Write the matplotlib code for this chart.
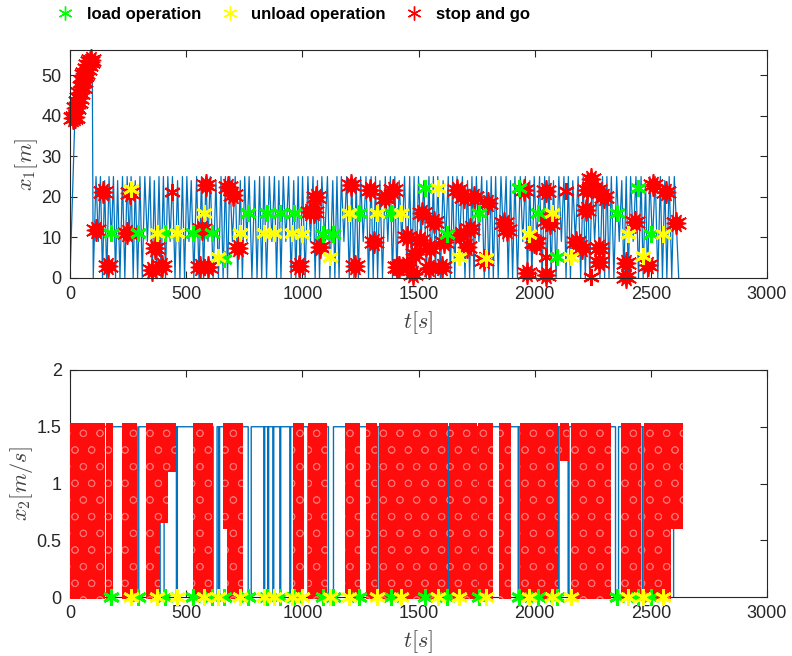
import matplotlib
matplotlib.use('Agg')
import matplotlib.pyplot as plt
from matplotlib.lines import Line2D

plt.rcParams['font.family'] = ['Liberation Sans', 'DejaVu Sans']
plt.rcParams['mathtext.fontset'] = 'cm'
plt.rcParams['hatch.linewidth'] = 0.6

# ---- x1 (position) trace: start-up ramp, then back-and-forth trips ----
ramp_t = [0, 21, 36, 50, 65, 80, 92, 96, 100]
ramp_x = [0, 39.7, 43.4, 46.7, 50, 52.5, 53.5, 51, 0]

peak_t = [112, 131, 149, 168, 187, 205, 226, 246, 263, 281,
          301, 322, 344, 363, 383, 402, 421, 441, 463, 484,
          503, 522, 545, 566, 585, 604, 628, 650, 669, 688,
          711, 733, 752, 771, 795, 816, 835, 858, 880, 899,
          918, 941, 963, 982, 1001, 1024, 1046, 1065, 1084, 1108,
          1131, 1149, 1168, 1191, 1213, 1232, 1251, 1274, 1296, 1315,
          1334, 1357, 1379, 1398, 1417, 1440, 1462, 1481, 1500, 1523,
          1545, 1564, 1583, 1606, 1628, 1647, 1666, 1689, 1711, 1730,
          1749, 1772, 1794, 1813, 1832, 1855, 1877, 1896, 1915, 1938,
          1960, 1979, 1998, 2021, 2043, 2062, 2081, 2104, 2126, 2145,
          2164, 2187, 2209, 2228, 2247, 2270, 2292, 2311, 2330, 2353,
          2375, 2394, 2413, 2436, 2458, 2477, 2496, 2519, 2541, 2560,
          2579, 2601]
peak_x = [25, 25, 24, 25, 25, 24, 25, 25, 25, 24,
          25, 25, 25, 24, 25, 25, 25, 25, 24, 25,
          25, 24, 25, 25, 25, 25, 24, 25, 25, 25,
          25, 24, 25, 25, 24, 25, 25, 25, 25, 24,
          25, 25, 24, 25, 25, 25, 25, 24, 25, 25,
          24, 25, 25, 25, 25, 24, 25, 25, 25, 25,
          24, 25, 25, 25, 24, 25, 25, 25, 25, 24,
          25, 25, 25, 24, 25, 25, 25, 25, 24, 25,
          25, 25, 24, 25, 25, 25, 25, 24, 25, 25,
          25, 24, 25, 25, 25, 25, 24, 25, 25, 25,
          24, 25, 25, 25, 25, 24, 25, 25, 25, 25,
          24, 25, 25, 25, 25, 24, 25, 25, 25, 24,
          25, 25]
valley_t = [122, 140, 158, 178, 196, 215, 236, 255, 272, 291,
            311, 333, 354, 373, 392, 411, 431, 452, 473, 493,
            512, 533, 555, 575, 594, 616, 639, 659, 678, 699,
            722, 742, 761, 783, 805, 825, 846, 869, 889, 908,
            929, 952, 972, 991, 1012, 1035, 1055, 1074, 1096, 1119,
            1140, 1158, 1179, 1202, 1222, 1241, 1262, 1285, 1305, 1324,
            1345, 1368, 1388, 1407, 1428, 1451, 1471, 1490, 1511, 1534,
            1554, 1573, 1594, 1617, 1637, 1656, 1677, 1700, 1720, 1739,
            1760, 1783, 1803, 1822, 1843, 1866, 1886, 1905, 1926, 1949,
            1969, 1988, 2009, 2032, 2052, 2071, 2092, 2115, 2135, 2154,
            2175, 2198, 2218, 2237, 2258, 2281, 2301, 2320, 2341, 2364,
            2384, 2403, 2424, 2447, 2467, 2486, 2507, 2530, 2550, 2569,
            2590, 2620]
valley_x = [9, 0, 0, 9, 0, 0, 0, 9, 0, 0,
            0, 9, 0, 0, 0, 0, 9, 0, 0, 0,
            9, 0, 0, 0, 9, 0, 0, 0, 0, 9,
            0, 0, 9, 0, 0, 0, 0, 9, 0, 0,
            9, 0, 0, 0, 0, 9, 0, 0, 9, 0,
            0, 0, 9, 0, 0, 0, 9, 0, 0, 0,
            0, 9, 0, 0, 9, 0, 0, 0, 9, 0,
            0, 0, 0, 9, 0, 0, 9, 0, 0, 0,
            9, 0, 0, 0, 0, 9, 0, 0, 0, 9,
            0, 0, 9, 0, 0, 0, 0, 9, 0, 0,
            9, 0, 0, 0, 9, 0, 0, 0, 0, 9,
            0, 0, 9, 0, 0, 0, 9, 0, 0, 0,
            0, 0]

# load / unload operations (time, position)
load_t = [175, 291, 409, 528, 610, 663, 768, 850, 905, 962, 1089, 1130, 1245,
          1382, 1530, 1623, 1762, 1932, 2013, 2097, 2353, 2444, 2499]
load_x = [11, 11, 11, 11, 11, 4.8, 15.9, 15.9, 15.9, 15.9, 10.8, 10.8, 15.9,
          15.9, 22.1, 10.8, 15.9, 22.1, 15.9, 5.1, 15.9, 22.1, 10.8]
unload_t = [263, 373, 459, 577, 639, 732, 833, 876, 955, 998, 1120, 1202, 1321,
            1425, 1583, 1673, 1791, 1975, 2075, 2155, 2403, 2467, 2554]
unload_x = [21.9, 11, 11, 15.9, 5.1, 11, 11, 11, 11, 10.8, 5.1, 15.9, 15.9,
            15.9, 22.1, 5.1, 5, 10.8, 15.9, 5.1, 10.8, 5.3, 10.8]

# stop-and-go events on x1
stop_t = [13, 20, 27, 33, 38, 44, 50, 55, 60, 66, 73, 79, 85, 90,
          112, 144, 162, 244, 260, 352, 366, 395, 560, 567, 584, 596, 681, 703,
          722, 987, 1034, 1051, 1060, 1077, 1209, 1228, 1293, 1307, 1357, 1390,
          1408, 1414, 1450, 1476, 1486, 1450, 1506, 1513, 1565, 1551, 1544, 1601,
          1608, 1666, 1695, 1738, 1680, 1723, 1709, 1800, 1781, 1867, 1881, 1953,
          2004, 1968, 2047, 2054, 2047, 2065, 1996, 2176, 2205, 2241, 2227, 2270,
          2298, 2219, 2276, 2276, 2391, 2391, 2430, 2511, 2564, 2487, 2607]
stop_x = [39.5, 39.8, 42, 43.5, 44.3, 45.5, 47, 48.5, 50, 50.5, 51.5, 52.5, 53.2, 53.7,
          11.8, 21.3, 3, 11, 21, 2, 7.3, 3, 2.8, 12.2, 22.9, 2.8, 22.5, 20.4,
          7.3, 3, 16.3, 16.3, 20, 7.6, 22.9, 3, 21.8, 8.9, 19.6, 21.7,
          2.8, 2.8, 3.2, 1.1, 6, 10.2, 9.4, 15.9, 13.9, 7.3, 2.4, 2.8,
          8.9, 21.8, 20, 20, 10.6, 12.2, 7.7, 18.5, 4.4, 13.5, 11.8, 21.7,
          8.7, 1.2, 21.4, 14.3, 0.8, 13.6, 8.9, 8.9, 7.3, 24.3, 21.7, 21.7,
          20, 16.7, 7.3, 4, 3.6, 0.3, 13.9, 22.9, 21.3, 3.2, 13.6]
stop_single_t = [441, 2047, 2133, 2241]
stop_single_x = [21.1, 5.1, 21.4, 0.3]

# ---- x2 (velocity): cruise speed with short standstills ----
v_cruise = 1.5
v_start, v_end = 2, 2598
zero_start = [289, 388, 458, 616, 640, 767, 834, 851, 873, 903, 946, 1024, 1112,
              1321, 1627, 1752, 1929, 2101, 2144, 2348, 2463, 2553]
zero_end = [296, 405, 462, 633, 644, 780, 838, 855, 877, 907, 950, 1028, 1134,
            1325, 1631, 1756, 1933, 2105, 2148, 2361, 2467, 2557]

# stop-and-go samples on x2 (time span and speed span they cover)
band_t0 = [0, 155, 224, 328, 388, 420, 530, 660, 675, 961, 1026, 1185, 1272, 1328,
           1632, 1758, 1845, 1935, 2108, 2155, 2371, 2470, 2586]
band_t1 = [152, 185, 289, 386, 420, 455, 614, 675, 746, 1006, 1108, 1250, 1321, 1626,
           1751, 1820, 1898, 2099, 2147, 2328, 2458, 2586, 2638]
band_lo = [-0.02, -0.02, -0.02, -0.02, 0.65, 1.1, -0.02, 0.6, -0.02, -0.02, -0.02, -0.02,
           -0.02, -0.02, -0.02, -0.02, -0.02, -0.02, 1.2, -0.02, -0.02, -0.02, 0.6]
band_hi = [1.53, 1.53, 1.53, 1.53, 1.53, 1.53, 1.53, 1.53, 1.53, 1.53, 1.53, 1.53,
           1.53, 1.53, 1.53, 1.53, 1.53, 1.53, 1.53, 1.53, 1.53, 1.53, 1.53]

BLUE = '#0072BD'
AX = '#262626'
AST = (6, 2, 0)   # matlab-like asterisk


def matlab_axes(ax):
    for s in ax.spines.values():
        s.set_color(AX)
        s.set_linewidth(0.8)
    ax.tick_params(direction='in', length=5, width=0.8, top=True, right=True,
                   colors=AX, labelsize=13, pad=6)


fig = plt.figure(figsize=(7.92, 6.56), dpi=100)
ax1 = fig.add_axes([70 / 792, 1 - 278 / 656, 697 / 792, 228 / 656])
ax2 = fig.add_axes([70 / 792, 1 - 597 / 656, 697 / 792, 227 / 656])

# top: position
path_t = list(ramp_t)
path_x = list(ramp_x)
for pt, px, vt, vx in zip(peak_t, peak_x, valley_t, valley_x):
    path_t += [pt, vt]
    path_x += [px, vx]
ax1.plot(path_t, path_x, color=BLUE, lw=0.9)
ax1.plot(stop_t, stop_x, ls='none', marker=(12, 1, 0), ms=14, color='red', clip_on=False)
ax1.plot(stop_t, stop_x, ls='none', marker=AST, ms=16, mew=1.2, color='red', clip_on=False)
ax1.plot(stop_single_t, stop_single_x, ls='none', marker=AST, ms=12, mew=1.6, color='red',
         clip_on=False)
ax1.plot(load_t, load_x, ls='none', marker=AST, ms=12, mew=2, color='#00ff00')
ax1.plot(unload_t, unload_x, ls='none', marker=AST, ms=12, mew=2, color='#ffff00')

ax1.set_xlim(0, 3000)
ax1.set_ylim(0, 56.2)
ax1.set_xticks(range(0, 3001, 500))
ax1.set_yticks(range(0, 51, 10))
ax1.set_xlabel(r'$t[s]$', fontsize=16, color='#404040', labelpad=4)
ax1.set_ylabel(r'$x_1[m]$', fontsize=16, color='#404040', labelpad=1)
matlab_axes(ax1)

# bottom: velocity
vel_t = [0, v_start]
vel_v = [0, v_cruise]
for a, b in zip(zero_start, zero_end):
    vel_t += [a, a, b, b]
    vel_v += [v_cruise, 0, 0, v_cruise]
vel_t += [v_end, v_end]
vel_v += [v_cruise, 0]
ax2.plot(vel_t, vel_v, color=BLUE, lw=1.0)
ax2.bar(band_t0, [h - l for h, l in zip(band_hi, band_lo)],
        width=[b - a for a, b in zip(band_t0, band_t1)], bottom=band_lo,
        align='edge', facecolor='#ff0d0d', edgecolor='#ff6e6e', linewidth=0,
        hatch='o', clip_on=False, zorder=3)
ax2.plot(load_t, [0] * len(load_t), ls='none', marker=AST, ms=12, mew=2,
         color='#00ff00', clip_on=False, zorder=4)
ax2.plot(unload_t, [0] * len(unload_t), ls='none', marker=AST, ms=12, mew=2,
         color='#ffff00', clip_on=False, zorder=4)

ax2.set_xlim(0, 3000)
ax2.set_ylim(0, 2)
ax2.set_xticks(range(0, 3001, 500))
ax2.set_yticks([0, 0.5, 1, 1.5, 2])
ax2.set_yticklabels(['0', '0.5', '1', '1.5', '2'])
ax2.set_xlabel(r'$t[s]$', fontsize=16, color='#404040', labelpad=4)
ax2.set_ylabel(r'$x_2[m/s]$', fontsize=16, color='#404040', labelpad=1)
matlab_axes(ax2)

handles = [
    Line2D([], [], ls='none', marker=AST, ms=10, mew=1, color='#00ff00'),
    Line2D([], [], ls='none', marker=AST, ms=10, mew=1, color='#ffff00'),
    Line2D([], [], ls='none', marker=AST, ms=10, mew=1, color='red'),
]
fig.legend(handles, ['load operation', 'unload operation', 'stop and go'],
           loc='center left', bbox_to_anchor=(42 / 792, 1 - 14 / 656), ncol=3,
           frameon=False, handlelength=1.0, handletextpad=0.8, columnspacing=1.2,
           prop={'weight': 'bold', 'size': 12})

fig.savefig('out.png', dpi=100)
